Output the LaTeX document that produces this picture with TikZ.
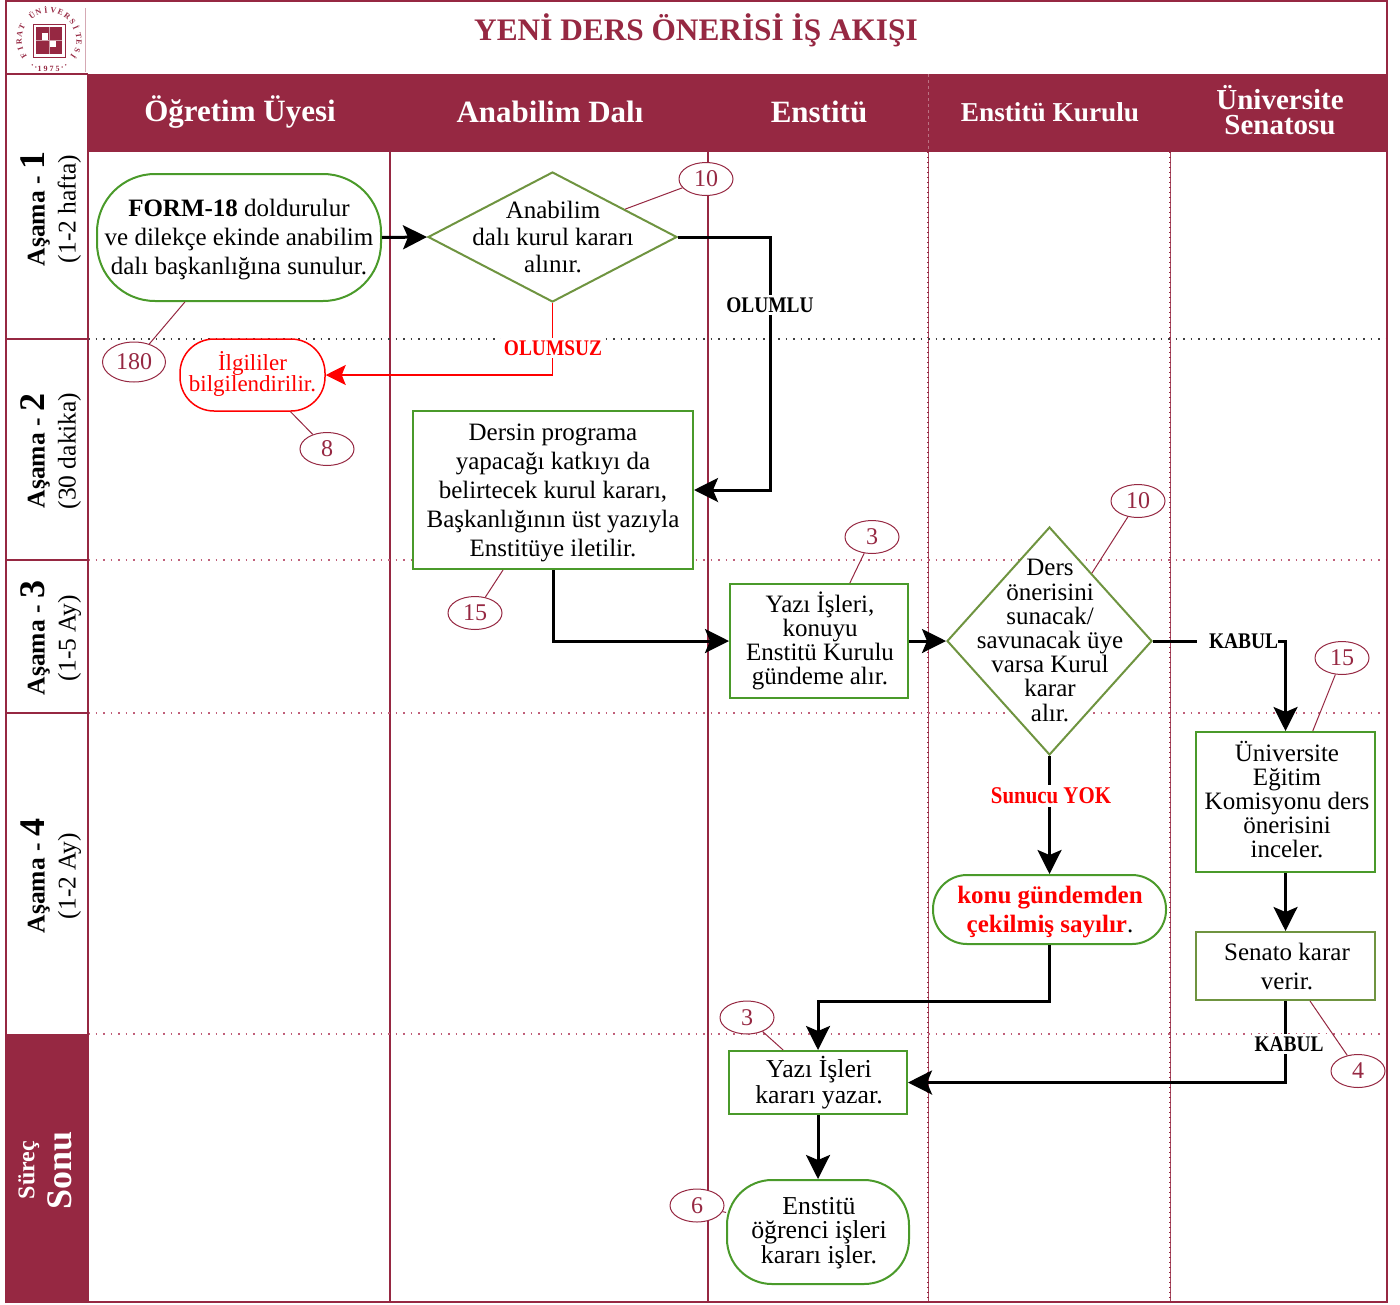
\documentclass[tikz,border=0pt]{standalone}
\usepackage{fontspec}
\setmainfont{Liberation Serif}
\newfontfamily\lblfont[FakeStretch=0.87]{Liberation Serif}
\usetikzlibrary{shapes.geometric,arrows.meta,calc}
\definecolor{maroon}{HTML}{962842}
\definecolor{pinkdot}{HTML}{C0607A}
\definecolor{boxgreen}{HTML}{4A9A2A}
\definecolor{olivegreen}{HTML}{6F9440}
\newcommand{\fs}[2]{\fontsize{#1}{#2}\selectfont}
\tikzset{
  x=1pt,y=-1pt,
  flow/.style={line width=3pt,black,-{Stealth[length=24pt,width=24pt,inset=5pt]}},
  flowred/.style={line width=1.5pt,red,-{Stealth[length=20pt,width=20pt,inset=4pt]}},
  callout/.style={line width=1pt,maroon},
  tag/.style={ellipse,draw=maroon,line width=1pt,fill=white,text=maroon,minimum width=54pt,minimum height=33pt,inner sep=0pt,font=\fs{24}{24}},
  body/.style={align=center,inner sep=0pt,text=black,font=\fs{25}{24.2}},
  gbox/.style={rectangle,draw=boxgreen,line width=2pt,fill=white},
  obox/.style={rectangle,draw=olivegreen,line width=2pt,fill=white},
  gdiam/.style={diamond,draw=olivegreen,line width=2pt,fill=white,inner sep=0pt},
  lbl/.style={fill=white,inner sep=3pt,font=\lblfont\bfseries\fs{22.3}{24}},
  head/.style={text=white,align=center,inner sep=0pt,font=\bfseries\fs{31}{24}},
  phase/.style={rotate=90,align=center,inner sep=0pt,font=\fs{25.5}{30}},
  lane/.style={maroon,line width=1.3pt},
  lanethin/.style={maroon!85,line width=.9pt},
  lanedot/.style={maroon,line width=1.7pt,dash pattern=on 1pt off 4pt},
  rowdot/.style={pinkdot,line width=1.4pt,dash pattern=on 1.5pt off 6pt},
}
\begin{document}
\begin{tikzpicture}
\useasboundingbox (0,0) rectangle (1400,1304);
\fill[white] (0,0) rectangle (1400,1304);
% bands
\fill[maroon] (88,74) rectangle (1387,152);
\fill[maroon] (6,1034) rectangle (88,1302);
% lanes and rows
\foreach \xx in {390,708} \draw[lane] (\xx,152) -- (\xx,1302);
\foreach \xx in {928,1170} {\draw[lanethin] (\xx,152) -- (\xx,1302); \draw[lanedot] (\xx,152) -- (\xx,1302);}
\draw[rowdot,black!75] (88,339) -- (1387,339);
\foreach \yy in {560,713,1034} \draw[rowdot] (88,\yy) -- (1387,\yy);
\draw[white,opacity=.35,line width=.8pt,dash pattern=on 3pt off 3pt] (928,74) -- (928,152);
\foreach \yy in {339,560,713} \draw[maroon,line width=2.4pt] (6,\yy) -- (88,\yy);
\draw[maroon,line width=2.4pt] (88,74) -- (88,1302);
\draw[maroon,line width=2.4pt] (6,74) -- (88,74);
\draw[maroon!40,line width=.8pt] (85,8) -- (85,72);
\draw[maroon,line width=2.6pt] (6,1) rectangle (1387,1302);
% logo
\draw[maroon,line width=1pt,fill=white] (33,24) rectangle (65,57);
\fill[maroon] (36,27) rectangle (62,54);
\draw[maroon!45!white,line width=.8pt] (49,27) -- (49,54) (36,40.5) -- (62,40.5);
\fill[white] (42,33) rectangle (48,40);
\fill[white] (50,41) rectangle (56,47);
\foreach \c [count=\i] in {F,I,R,A,T,,Ü,N,İ,V,E,R,S,İ,T,E,S,İ}
  \node[rotate={212-(\i-1)*14.5-90},inner sep=0pt,text=maroon,font=\bfseries\fs{8}{9}] (lg\i) at ({49+30*cos(212-(\i-1)*14.5)},{40-30*sin(212-(\i-1)*14.5)}) {\c};
\node[inner sep=0pt,text=maroon,font=\bfseries\fs{8}{9}] (lgy) at (48.5,69) {1 9 7 5};
\foreach \a in {236,244,296,304} \fill[maroon] ({49+30*cos(\a)},{40-30*sin(\a)}) circle (.8pt);
% title and heads
\node[inner sep=0pt,text=maroon,font=\bfseries\fs{31.3}{36}] (title) at (696,30) {YENİ DERS ÖNERİSİ İŞ AKIŞI};
\node[head] (h1) at (240,112) {Öğretim Üyesi};
\node[head] (h2) at (550,112) {Anabilim Dalı};
\node[head] (h3) at (819,112) {Enstitü};
\node[head,font=\bfseries\fs{27.3}{24}] (h4) at (1050,112) {Enstitü Kurulu};
\node[head,font=\bfseries\fs{29}{25}] (h5) at (1280,110) {Üniversite\\Senatosu};
% phases
\node[phase] (p1) at (51,209) {{\bfseries Aşama - {\fs{36}{30}1}}\\[1pt](1-2 hafta)};
\node[phase] (p2) at (51,451) {{\bfseries Aşama - {\fs{36}{30}2}}\\[1pt](30 dakika)};
\node[phase] (p3) at (51,638) {{\bfseries Aşama - {\fs{36}{30}3}}\\[1pt](1-5 Ay)};
\node[phase] (p4) at (51,876) {{\bfseries Aşama - {\fs{36}{30}4}}\\[1pt](1-2 Ay)};
\node[phase,text=white,font=\bfseries\fs{24}{37}] (p5) at (45,1170) {Süreç\\{\fs{36}{37}Sonu}};
% nodes
\node[gbox,rounded corners=58pt,minimum width=284pt,minimum height=127pt] (form) at (239,237.5) {};
\node[body,font=\fs{25}{29}] (formt) at (239,240) {{\bfseries FORM-18} doldurulur\\ve dilekçe ekinde anabilim\\dalı başkanlığına sunulur.};
\node[gdiam,minimum width=249pt,minimum height=130pt] (d1) at (552.5,237) {};
\node[body,font=\fs{25}{27}] (d1t) at (553,237) {Anabilim\\dalı kurul kararı\\alınır.};
\node[rectangle,rounded corners=34pt,draw=red,line width=1.5pt,fill=white,minimum width=145pt,minimum height=72pt] (ilgili) at (252.5,375) {};
\node[body,text=red,font=\fs{23}{21}] (ilgilit) at (252.5,374) {İlgililer\\bilgilendirilir.};
\node[gbox,minimum width=280pt,minimum height=158pt] (box2) at (553,490) {};
\node[body,font=\fs{25}{29}] (box2t) at (553,492.5) {Dersin programa\\yapacağı katkıyı da\\belirtecek kurul kararı,\\Başkanlığının üst yazıyla\\Enstitüye iletilir.};
\node[gbox,minimum width=178pt,minimum height=114pt] (yazi) at (819,641) {};
\node[body] (yazit) at (820,641) {Yazı İşleri,\\konuyu\\Enstitü Kurulu\\gündeme alır.};
\node[gdiam,minimum width=205pt,minimum height=228pt] (d2) at (1049.5,641) {};
\node[body] (d2t) at (1050,640.5) {Ders\\önerisini\\sunacak/\\savunacak üye\\varsa Kurul\\karar\\alır.};
\node[gbox,minimum width=179pt,minimum height=140pt] (uni) at (1285.5,802) {};
\node[body] (unit) at (1287,799.5) {Üniversite\\Eğitim\\Komisyonu ders\\önerisini\\inceler.};
\node[obox,minimum width=179pt,minimum height=68pt] (senato) at (1285.5,966) {};
\node[body,font=\fs{25}{29}] (senatot) at (1287,966) {Senato karar\\verir.};
\node[gbox,rounded corners=34pt,minimum width=233pt,minimum height=69pt] (konu) at (1049.5,909.5) {};
\node[body,text=red,font=\bfseries\fs{25}{29}] (konut) at (1050,912) {konu gündemden\\çekilmiş sayılır{\color{black}\mdseries .}};
\node[gbox,minimum width=178pt,minimum height=63pt] (karar) at (818,1082.5) {};
\node[body,font=\fs{25.8}{26}] (karart) at (819,1082.5) {Yazı İşleri\\kararı yazar.};
\node[gbox,rounded corners=45pt,minimum width=182pt,minimum height=104pt] (enst) at (818,1232) {};
\node[body,font=\fs{25.8}{24.2}] (enstt) at (819,1233) {Enstitü\\öğrenci işleri\\kararı işler.};
% connectors
\coordinate (b1) at (770,300);
\draw[flow] (form.east) -- (d1.west);
\draw[flow] (d1.east) -| (b1) |- (box2.east);
\draw[flowred] (d1.south) |- (ilgili.east);
\draw[flow] (box2.south) |- (yazi.west);
\draw[flow] (yazi.east) -- (d2.west);
\draw[flow] (d2.east) -| (uni.north);
\draw[flow] (uni.south) -- (senato.north);
\draw[flow] (d2.south) -- (konu.north);
\draw[flow] (konu.south) -- ++(0,56) -| (karar.north);
\draw[flow] (senato.south) |- (karar.east);
\draw[flow] (karar.south) -- (enst.north);
% connector labels
\node[lbl] (l1) at (770,305) {OLUMLU};
\node[lbl,text=red] (l2) at (553,348) {OLUMSUZ};
\node[lbl,inner xsep=0pt] (l3) at (1237.5,641) {\hspace{12pt}KABUL};
\node[lbl,text=red,font=\lblfont\bfseries\fs{24}{24}] (l4) at (1051,796) {Sunucu YOK};
\node[lbl] (l5) at (1289,1044) {KABUL};
% callouts
\node[tag] (c1) at (706,179) {10};
\node[tag,minimum width=63pt,minimum height=40pt] (c2) at (134,362) {180};
\node[tag] (c3) at (327,449) {8};
\node[tag] (c4) at (475,613) {15};
\node[tag] (c5) at (872,537) {3};
\node[tag] (c6) at (1138,501) {10};
\node[tag] (c7) at (1342,658) {15};
\node[tag] (c8) at (747,1017.5) {3};
\node[tag] (c9) at (1358,1071) {4};
\node[tag] (c10) at (697,1205.5) {6};
\draw[callout] (c1) -- (d1.21);
\draw[callout] (c2) -- (form.-130);
\draw[callout] (c3) -- (ilgili.-44);
\draw[callout] (c4) -- (box2.-122);
\draw[callout] (c5) -- (yazi.62);
\draw[callout] (c6) -- (d2.58);
\draw[callout] (c7) -- (uni.69);
\draw[callout] (c8) -- (karar.137);
\draw[callout] (c9) -- (senato.-55);
\draw[callout] (c10) -- (enst.168);
\end{tikzpicture}
\end{document}
